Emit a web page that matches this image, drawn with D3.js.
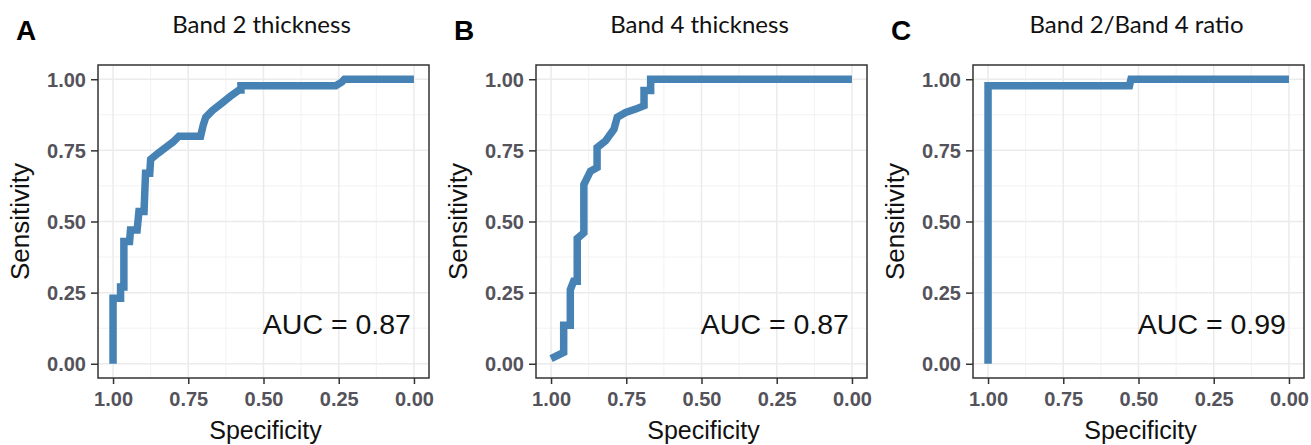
<!DOCTYPE html>
<html>
<head>
<meta charset="utf-8">
<script src="https://cdn.jsdelivr.net/npm/d3@7"></script>
<style>
  html, body { margin: 0; padding: 0; background: #fff; }
  svg { display: block; }
</style>
</head>
<body>
<svg id="chart" width="1311" height="445"></svg>
<script>
// ---- data ----
const panelLabels = ["A", "B", "C"];
const panelTitles = ["Band 2 thickness", "Band 4 thickness", "Band 2/Band 4 ratio"];
const aucLabels = ["AUC = 0.87", "AUC = 0.87", "AUC = 0.99"];
const tickValues = [0, 0.25, 0.5, 0.75, 1];
const tickLabels = ["0.00", "0.25", "0.50", "0.75", "1.00"];
const minorValues = [0.125, 0.375, 0.625, 0.875];

const specA = [1, 1, 0.975, 0.975, 0.964, 0.964, 0.945, 0.942, 0.92, 0.914, 0.897, 0.892, 0.878, 0.875, 0.85, 0.825, 0.80, 0.781, 0.709, 0.70, 0.692, 0.67, 0.642, 0.61, 0.581, 0.575, 0.575, 0.26, 0.24, 0.231, 0];
const sensA = [0, 0.23, 0.23, 0.27, 0.27, 0.43, 0.43, 0.47, 0.47, 0.535, 0.535, 0.67, 0.67, 0.718, 0.74, 0.76, 0.78, 0.80, 0.80, 0.84, 0.866, 0.89, 0.913, 0.94, 0.962, 0.962, 0.977, 0.977, 0.99, 1.0, 1.0];

const specB = [1.0, 0.958, 0.958, 0.936, 0.936, 0.925, 0.913, 0.913, 0.891, 0.891, 0.869, 0.847, 0.847, 0.819, 0.791, 0.78, 0.752, 0.719, 0.691, 0.691, 0.669, 0.669, 0];
const sensB = [0.018, 0.04, 0.135, 0.135, 0.26, 0.29, 0.29, 0.44, 0.46, 0.63, 0.677, 0.69, 0.76, 0.783, 0.824, 0.866, 0.883, 0.895, 0.907, 0.96, 0.96, 1.0, 1.0];

const specC = [1, 1, 0.53, 0.525, 0];
const sensC = [0, 0.977, 0.977, 1, 1];

const specs = [specA, specB, specC];
const senss = [sensA, sensB, sensC];

// ---- layout ----
const panelLefts = [98, 536, 973];
const panelTop = 65;
const pw = 331, ph = 313;

const svg = d3.select("#chart");

panelLefts.forEach((left, i) => {
  const g = svg.append("g").attr("transform", `translate(${left},${panelTop})`);
  const x = d3.scaleLinear().domain([1.05, -0.05]).range([0, pw]);
  const y = d3.scaleLinear().domain([-0.05, 1.05]).range([ph, 0]);

  // minor grid
  g.selectAll(".minx").data(minorValues).join("line")
    .attr("x1", d => x(d)).attr("x2", d => x(d)).attr("y1", 0).attr("y2", ph)
    .attr("stroke", "#F2F2F2").attr("stroke-width", 1);
  g.selectAll(".miny").data(minorValues).join("line")
    .attr("y1", d => y(d)).attr("y2", d => y(d)).attr("x1", 0).attr("x2", pw)
    .attr("stroke", "#F2F2F2").attr("stroke-width", 1);
  // major grid
  g.selectAll(".majx").data(tickValues).join("line")
    .attr("x1", d => x(d)).attr("x2", d => x(d)).attr("y1", 0).attr("y2", ph)
    .attr("stroke", "#EBEBEB").attr("stroke-width", 1.5);
  g.selectAll(".majy").data(tickValues).join("line")
    .attr("y1", d => y(d)).attr("y2", d => y(d)).attr("x1", 0).attr("x2", pw)
    .attr("stroke", "#EBEBEB").attr("stroke-width", 1.5);

  // curve
  const pts = specs[i].map((s, k) => [s, senss[i][k]]);
  g.append("path")
    .datum(pts)
    .attr("d", d3.line().x(d => x(d[0])).y(d => y(d[1])))
    .attr("fill", "none")
    .attr("stroke", "#4682B4")
    .attr("stroke-width", 7.5)
    .attr("stroke-linejoin", "miter")
    .attr("stroke-linecap", "butt");

  // AUC text
  g.append("text")
    .attr("x", x(0.01)).attr("y", y(0.105))
    .attr("text-anchor", "end")
    .attr("font-family", "Liberation Sans, Arial, sans-serif")
    .attr("font-size", 28.5)
    .attr("fill", "#111")
    .text(aucLabels[i]);

  // border
  g.append("rect").attr("x", 0).attr("y", 0).attr("width", pw).attr("height", ph)
    .attr("fill", "none").attr("stroke", "#333").attr("stroke-width", 1.5);

  // axes
  const xAxis = d3.axisBottom(x).tickValues(tickValues)
    .tickFormat(d => tickLabels[tickValues.indexOf(d)]).tickSize(6).tickPadding(6);
  const gx = g.append("g").attr("transform", `translate(0,${ph})`).call(xAxis);
  const yAxis = d3.axisLeft(y).tickValues(tickValues)
    .tickFormat(d => tickLabels[tickValues.indexOf(d)]).tickSize(7).tickPadding(5);
  const gy = g.append("g").call(yAxis);
  [gx, gy].forEach(a => {
    a.select(".domain").remove();
    a.selectAll(".tick line").attr("stroke", "#333").attr("stroke-width", 1.5);
    a.selectAll(".tick text")
      .attr("font-family", "Liberation Sans, Arial, sans-serif")
      .attr("font-size", 20).attr("font-weight", "bold").attr("fill", "#54525a");
  });
  gx.selectAll(".tick text").attr("dy", "0.82em");
  gy.selectAll(".tick text").attr("dy", "0.36em");

  // axis titles
  g.append("text")
    .attr("x", pw / 2 + 2).attr("y", ph + 61)
    .attr("text-anchor", "middle")
    .attr("font-family", "Liberation Sans, Arial, sans-serif")
    .attr("font-size", 25).attr("fill", "#111")
    .text("Specificity");
  g.append("text")
    .attr("transform", `translate(${-69},${ph / 2}) rotate(-90)`)
    .attr("text-anchor", "middle")
    .attr("font-family", "Liberation Sans, Arial, sans-serif")
    .attr("font-size", 26).attr("fill", "#111")
    .text("Sensitivity");

  // panel title
  g.append("text")
    .attr("x", pw / 2 - 2).attr("y", 33 - panelTop)
    .attr("text-anchor", "middle")
    .attr("font-family", "Lato, 'Open Sans', sans-serif")
    .attr("font-size", 24).attr("fill", "#111")
    .text(panelTitles[i]);

  // panel letter
  svg.append("text")
    .attr("x", left - 82).attr("y", 40)
    .attr("font-family", "Liberation Sans, Arial, sans-serif")
    .attr("font-size", 28).attr("font-weight", "bold").attr("fill", "#000")
    .text(panelLabels[i]);
});
</script>
</body>
</html>
